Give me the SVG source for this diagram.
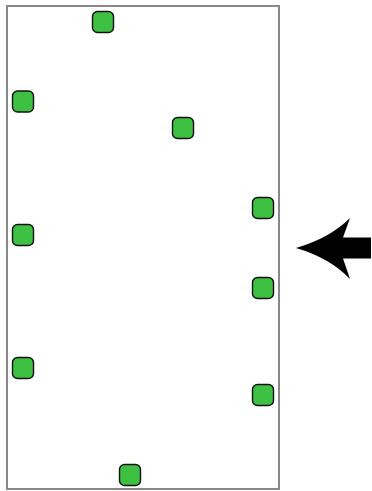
<svg xmlns="http://www.w3.org/2000/svg" width="372" height="491" viewBox="0 0 372 491">
<style>
.frame{fill:#fff;stroke:#888;stroke-width:2}
.n{fill:#3ec143;stroke:#111;stroke-width:1.4}
</style>
<defs>
<rect id="sq" x="-10.5" y="-10.5" width="21" height="21" rx="5" ry="5"/>
</defs>
<rect width="372" height="491" fill="#fff"/>
<rect class="frame" x="7" y="6" width="272" height="483"/>
<g id="node1" transform="translate(103,22)"><use href="#sq" class="n"/></g>
<g id="node2" transform="translate(23,101.5)"><use href="#sq" class="n"/></g>
<g id="node3" transform="translate(183,128)"><use href="#sq" class="n"/></g>
<g id="node4" transform="translate(263,208)"><use href="#sq" class="n"/></g>
<g id="node5" transform="translate(23,235)"><use href="#sq" class="n"/></g>
<g id="node6" transform="translate(263,288)"><use href="#sq" class="n"/></g>
<g id="node7" transform="translate(23,368)"><use href="#sq" class="n"/></g>
<g id="node8" transform="translate(263,395)"><use href="#sq" class="n"/></g>
<g id="node9" transform="translate(130,475)"><use href="#sq" class="n"/></g>
<g id="connectors">
<path d="M296,248 Q330,238 350,218 L343,237.5 L371,237.5 L371,258.5 L343,258.5 L350,279 Q330,258 296,248 Z" fill="#000"/>
</g>
</svg>
